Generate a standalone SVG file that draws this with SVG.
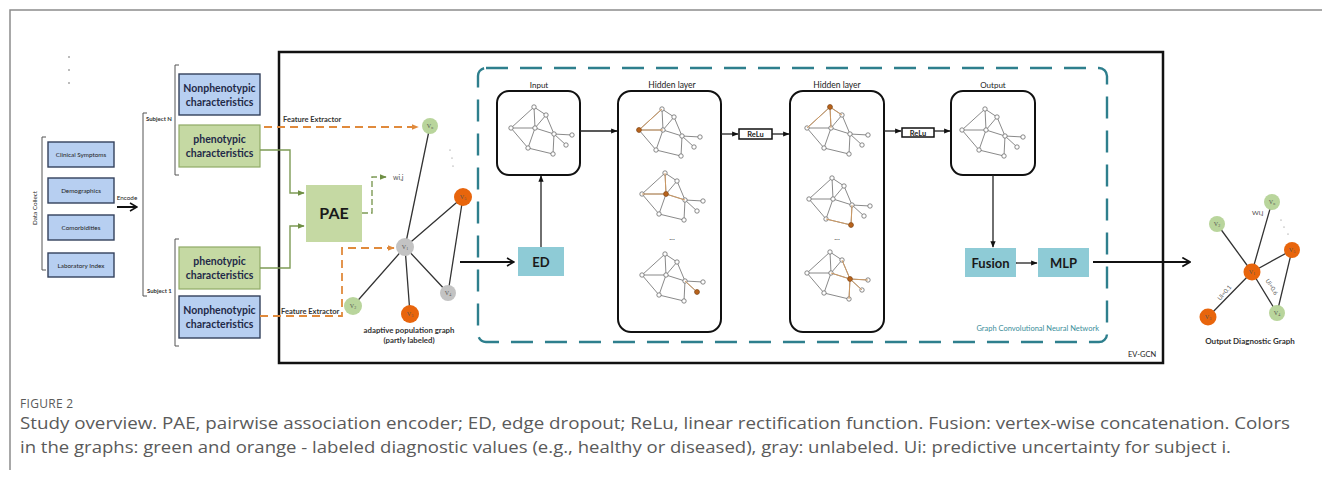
<svg xmlns="http://www.w3.org/2000/svg" xmlns:xlink="http://www.w3.org/1999/xlink" width="1322" height="479" viewBox="0 0 1322 479">
  <style>
    .lbl { font-family: Lato, "Open Sans", "Liberation Sans", sans-serif; }
    .boxb { fill: #b7cff1; stroke: #33405c; stroke-width: 1.4; }
    .boxg { fill: #c5d9a3; stroke: #8faa66; stroke-width: 1.2; }
    .boxt { fill: #8ecbd6; }
    .big { font-weight: 700; font-size: 10.5px; fill: #1f2a48; text-anchor: middle; }
    .small { font-size: 6.3px; fill: #222; text-anchor: middle; }
    .layer { fill: #fff; stroke: #111; stroke-width: 2; }
    .cap { font-family: "Open Sans", Lato, "Liberation Sans", sans-serif; fill: #5a5a5a; }
    .brk { fill: none; stroke: #555; stroke-width: 1; }
    .ge { stroke: #333; stroke-width: 1.3; }
    .me { stroke: #6b6b6b; stroke-width: 0.8; fill: none; }
    .mo { stroke: #d59a5c; stroke-width: 0.9; fill: none; }
    .mn { fill: #fff; stroke: #6b6b6b; stroke-width: 0.8; }
    .mno { fill: #b8631c; stroke: #8a4a14; stroke-width: 0.6; }
    .vl { font-family: "Liberation Serif", serif; font-size: 6px; fill: #555; text-anchor: middle; }
    .ng { fill: #b9d59c; }
    .no { fill: #e8650c; }
    .ny { fill: #c3c3c3; }
  </style>
  <defs>
    <marker id="ah" viewBox="0 0 10 10" refX="9" refY="5" markerWidth="5" markerHeight="5" orient="auto">
      <path d="M0,1 L10,5 L0,9 z" fill="#111"/>
    </marker>
    <marker id="ahg" viewBox="0 0 10 10" refX="9" refY="5" markerWidth="5" markerHeight="5" orient="auto">
      <path d="M0,1 L10,5 L0,9 z" fill="#6f8f45"/>
    </marker>
    <marker id="aho" viewBox="0 0 10 10" refX="9" refY="5" markerWidth="4" markerHeight="4" orient="auto">
      <path d="M0,1 L10,5 L0,9 z" fill="#e08a3c"/>
    </marker>
    <marker id="chev" viewBox="0 0 10 10" refX="9" refY="5" markerWidth="5" markerHeight="5" orient="auto">
      <path d="M2,1 L9,5 L2,9" fill="none" stroke="#111" stroke-width="1.6"/>
    </marker>
    <!-- mini graph used inside the GCN layer boxes; origin at left node -->
    <g id="mg">
      <path class="me" d="M23,-21 L35,-13 M23,-21 L0,0 M23,-21 L24,0 M35,-13 L24,0 M0,0 L24,0 M0,0 L17,20 M24,0 L43,6 M35,-13 L43,6 M24,0 L17,20 M17,20 L42,26 M43,6 L42,26 M43,6 L61,7 M43,6 L55,17"/>
      <circle class="mn" cx="23" cy="-21" r="2.2"/>
      <circle class="mn" cx="35" cy="-13" r="2.2"/>
      <circle class="mn" cx="0" cy="0" r="2.2"/>
      <circle class="mn" cx="24" cy="0" r="2.2"/>
      <circle class="mn" cx="43" cy="6" r="2.2"/>
      <circle class="mn" cx="61" cy="7" r="2.2"/>
      <circle class="mn" cx="55" cy="17" r="2.2"/>
      <circle class="mn" cx="17" cy="20" r="2.2"/>
      <circle class="mn" cx="42" cy="26" r="2.2"/>
    </g>
  </defs>

  <rect width="1322" height="479" fill="#fff"/>

  <!-- page frame -->
  <path d="M10,470 V10 H1322" fill="none" stroke="#8c8c8c" stroke-width="1.5"/>

  <!-- data collection column -->
  <g id="data-collect" class="lbl">
    <circle cx="69" cy="57" r="0.8" fill="#666"/>
    <circle cx="69" cy="70" r="0.8" fill="#666"/>
    <circle cx="69" cy="83" r="0.8" fill="#666"/>
    <path class="brk" d="M46,137 H42 V270 H46"/>
    <text class="small" transform="translate(37,208) rotate(-90)">Data Collect</text>
    <rect class="boxb" x="48" y="142" width="66" height="25" stroke-width="1"/>
    <text class="small" x="81" y="157">Clinical Symptoms</text>
    <rect class="boxb" x="48" y="178" width="66" height="25" stroke-width="1"/>
    <text class="small" x="81" y="193">Demographics</text>
    <rect class="boxb" x="48" y="215" width="66" height="25" stroke-width="1"/>
    <text class="small" x="81" y="230">Comorbidities</text>
    <rect class="boxb" x="48" y="253" width="66" height="24" stroke-width="1"/>
    <text class="small" x="81" y="268">Laboratory Index</text>
    <text class="small" x="127" y="200" font-size="3.6">Encode</text>
  </g>

  <!-- subjects -->
  <g id="subjects" class="lbl">
    <path class="brk" d="M147,113 H143 V296 H147"/>
    <text x="146" y="121" font-size="6" font-weight="700" fill="#333">Subject N</text>
    <text x="147" y="293" font-size="6" font-weight="700" fill="#333">Subject 1</text>
    <path class="brk" d="M179,65 H175 V175 H179"/>
    <path class="brk" d="M179,239 H175 V346 H179"/>
  </g>
  <g id="nonpheno-n" class="lbl">
    <rect class="boxb" x="179" y="74" width="81" height="41"/>
    <text class="big" x="219.5" y="92">Nonphenotypic</text>
    <text class="big" x="219.5" y="106">characteristics</text>
  </g>
  <g id="pheno-n" class="lbl">
    <rect class="boxg" x="179" y="125" width="81" height="42"/>
    <text class="big" x="219.5" y="143">phenotypic</text>
    <text class="big" x="219.5" y="157">characteristics</text>
  </g>
  <g id="pheno-1" class="lbl">
    <rect class="boxg" x="179" y="247" width="81" height="42"/>
    <text class="big" x="219.5" y="265">phenotypic</text>
    <text class="big" x="219.5" y="279">characteristics</text>
  </g>
  <g id="nonpheno-1" class="lbl">
    <rect class="boxb" x="179" y="296" width="81" height="42"/>
    <text class="big" x="219.5" y="314">Nonphenotypic</text>
    <text class="big" x="219.5" y="328">characteristics</text>
  </g>

  <!-- EV-GCN frame and GCN dashed region -->
  <g id="ev-gcn" class="lbl">
    <rect x="279" y="52" width="884" height="311" fill="none" stroke="#111" stroke-width="2.5"/>
    <text x="1128" y="357" font-size="7.5" fill="#222">EV-GCN</text>
  </g>
  <g id="gcn" class="lbl">
    <rect x="478" y="68" width="629" height="274" rx="8" fill="none" stroke="#2e7f8d" stroke-width="2.4" stroke-dasharray="22 12"/>
    <text x="1099" y="331" font-size="7.5" fill="#3b8e9a" text-anchor="end">Graph Convolutional Neural Network</text>
  </g>

  <!-- PAE -->
  <g id="pae" class="lbl">
    <rect x="306" y="185" width="56" height="57" fill="#c5d9a3"/>
    <text x="334" y="219" font-size="16" font-weight="700" fill="#1a1a1a" text-anchor="middle">PAE</text>
    <text x="393" y="180" font-size="7" fill="#555">wi,j</text>
  </g>

  <!-- adaptive population graph -->
  <g id="population-graph" class="lbl">
    <path class="ge" d="M405,247 L430,126 M405,247 L463,197 M405,247 L448,293 M405,247 L410,314 M405,247 L353,306 M463,197 L448,293"/>
    <circle cx="450" cy="150" r="0.6" fill="#777"/>
    <circle cx="452" cy="158" r="0.6" fill="#777"/>
    <circle cx="453" cy="166" r="0.6" fill="#777"/>
    <circle class="ng" cx="430" cy="126" r="8"/>
    <text class="vl" x="430" y="128">V<tspan font-size="4" dy="1">n</tspan></text>
    <circle class="no" cx="463" cy="197" r="9"/>
    <text class="vl" x="463" y="199">V<tspan font-size="4" dy="1">5</tspan></text>
    <circle class="ny" cx="405" cy="247" r="9"/>
    <text class="vl" x="405" y="249">V<tspan font-size="4" dy="1">1</tspan></text>
    <circle class="ny" cx="448" cy="293" r="8"/>
    <text class="vl" x="448" y="295">V<tspan font-size="4" dy="1">4</tspan></text>
    <circle class="no" cx="410" cy="314" r="9"/>
    <text class="vl" x="410" y="316">V<tspan font-size="4" dy="1">3</tspan></text>
    <circle class="ng" cx="353" cy="306" r="9"/>
    <text class="vl" x="353" y="308">V<tspan font-size="4" dy="1">2</tspan></text>
    <text x="409" y="333" font-size="7.8" font-weight="700" fill="#333" text-anchor="middle">adaptive population graph</text>
    <text x="409" y="343" font-size="7.8" font-weight="700" fill="#333" text-anchor="middle">(partly labeled)</text>
  </g>

  <!-- edge dropout -->
  <g id="ed" class="lbl">
    <rect class="boxt" x="518" y="247" width="46" height="29"/>
    <text x="541" y="267" font-size="13" font-weight="700" fill="#1a1a1a" text-anchor="middle">ED</text>
  </g>

  <!-- input layer -->
  <g id="input-layer" class="lbl">
    <text x="539" y="88" font-size="8" fill="#222" text-anchor="middle">Input</text>
    <rect class="layer" x="497" y="91" width="83" height="84" rx="12"/>
    <use xlink:href="#mg" x="511" y="128"/>
  </g>

  <!-- hidden layer 1 -->
  <g id="hidden-layer-1" class="lbl">
    <text x="672" y="88" font-size="8.5" fill="#222" text-anchor="middle">Hidden layer</text>
    <rect class="layer" x="618" y="91" width="103" height="241" rx="13"/>
    <use xlink:href="#mg" x="639" y="130"/>
    <path class="mo" d="M639,130 L662,109 M639,130 L663,130"/>
    <circle class="mno" cx="639" cy="130" r="2.4"/>
    <use xlink:href="#mg" x="642" y="194"/>
    <path class="mo" d="M666,194 L665,173 M666,194 L642,194 M666,194 L685,200"/>
    <circle class="mno" cx="666" cy="194" r="2.4"/>
    <text x="672" y="240" font-size="8" fill="#444" text-anchor="middle">...</text>
    <use xlink:href="#mg" x="642" y="275"/>
    <path class="mo" d="M685,281 L697,292"/>
    <circle class="mno" cx="697" cy="292" r="2.4"/>
  </g>

  <!-- ReLu 1 -->
  <g id="relu-1" class="lbl">
    <rect x="739" y="129" width="33" height="10" fill="#fff" stroke="#111" stroke-width="1.5"/>
    <text x="755.5" y="137" font-size="7.5" font-weight="700" fill="#222" text-anchor="middle">ReLu</text>
  </g>

  <!-- hidden layer 2 -->
  <g id="hidden-layer-2" class="lbl">
    <text x="837" y="88" font-size="8.5" fill="#222" text-anchor="middle">Hidden layer</text>
    <rect class="layer" x="790" y="91" width="94" height="241" rx="13"/>
    <use xlink:href="#mg" x="807" y="128"/>
    <path class="mo" d="M830,107 L807,128 M830,107 L831,128 M830,107 L842,115"/>
    <circle class="mno" cx="830" cy="107" r="2.4"/>
    <use xlink:href="#mg" x="809" y="199"/>
    <path class="mo" d="M851,225 L826,219 M851,225 L852,205"/>
    <circle class="mno" cx="851" cy="225" r="2.4"/>
    <text x="837" y="240" font-size="8" fill="#444" text-anchor="middle">...</text>
    <use xlink:href="#mg" x="807" y="273"/>
    <path class="mo" d="M850,279 L831,273 M850,279 L868,280 M850,279 L862,290 M850,279 L849,299 M850,279 L842,260"/>
    <circle class="mno" cx="850" cy="279" r="2.4"/>
  </g>

  <!-- ReLu 2 -->
  <g id="relu-2" class="lbl">
    <rect x="902" y="128" width="32" height="9" fill="#fff" stroke="#111" stroke-width="1.5"/>
    <text x="918" y="135.5" font-size="7.5" font-weight="700" fill="#222" text-anchor="middle">ReLu</text>
  </g>

  <!-- output layer -->
  <g id="output-layer" class="lbl">
    <text x="993" y="88" font-size="8" fill="#222" text-anchor="middle">Output</text>
    <rect class="layer" x="951" y="91" width="84" height="84" rx="12"/>
    <use xlink:href="#mg" x="962" y="130"/>
  </g>

  <!-- fusion and MLP -->
  <g id="fusion" class="lbl">
    <rect class="boxt" x="965" y="248" width="51" height="29"/>
    <text x="990.5" y="268" font-size="13" font-weight="700" fill="#1a1a1a" text-anchor="middle">Fusion</text>
  </g>
  <g id="mlp" class="lbl">
    <rect class="boxt" x="1038" y="248" width="51" height="29"/>
    <text x="1063.5" y="268" font-size="13" font-weight="700" fill="#1a1a1a" text-anchor="middle">MLP</text>
  </g>

  <!-- output diagnostic graph -->
  <g id="diagnostic-graph" class="lbl">
    <path class="ge" d="M1252,272 L1272,202 M1252,272 L1217,224 M1252,272 L1292,250 M1252,272 L1277,313 M1252,272 L1208,317 M1292,250 L1277,313"/>
    <text x="1252" y="215" font-size="6.5" fill="#444">Wi,j</text>
    <circle cx="1281" cy="220" r="0.6" fill="#777"/>
    <circle cx="1284" cy="227" r="0.6" fill="#777"/>
    <circle cx="1288" cy="234" r="0.6" fill="#777"/>
    <text transform="translate(1226,294) rotate(-50)" font-size="6" fill="#555" text-anchor="middle">Ui=0.1</text>
    <text transform="translate(1270,288) rotate(58)" font-size="6" fill="#555" text-anchor="middle">Ui=0.6</text>
    <circle class="ng" cx="1272" cy="202" r="8"/>
    <text class="vl" x="1272" y="204">V<tspan font-size="4" dy="1">n</tspan></text>
    <circle class="ng" cx="1217" cy="224" r="8"/>
    <text class="vl" x="1217" y="226">V<tspan font-size="4" dy="1">2</tspan></text>
    <circle class="no" cx="1292" cy="250" r="8"/>
    <text class="vl" x="1292" y="252">V<tspan font-size="4" dy="1">5</tspan></text>
    <circle class="no" cx="1252" cy="272" r="8.5"/>
    <text class="vl" x="1252" y="274">V<tspan font-size="4" dy="1">1</tspan></text>
    <circle class="ng" cx="1277" cy="313" r="8"/>
    <text class="vl" x="1277" y="315">V<tspan font-size="4" dy="1">4</tspan></text>
    <circle class="no" cx="1208" cy="317" r="8.5"/>
    <text class="vl" x="1208" y="319">V<tspan font-size="4" dy="1">3</tspan></text>
    <text x="1250" y="344" font-size="8" font-weight="700" fill="#333" text-anchor="middle">Output Diagnostic Graph</text>
  </g>

  <!-- connectors -->
  <g id="connectors" fill="none">
    <path d="M117,207 H137" stroke="#111" stroke-width="2" marker-end="url(#chev)"/>
    <path d="M260,150 H290 V193 H304" stroke="#7d9a55" stroke-width="1.4" marker-end="url(#ahg)"/>
    <path d="M260,268 H290 V226 H304" stroke="#7d9a55" stroke-width="1.4" marker-end="url(#ahg)"/>
    <path d="M362,213 H372 V177 H386" stroke="#7d9a55" stroke-width="1.4" stroke-dasharray="6 3" marker-end="url(#ahg)"/>
    <path d="M264,127 H418" stroke="#e08a3c" stroke-width="1.8" stroke-dasharray="8 5" marker-end="url(#aho)"/>
    <path d="M260,316 H342 V248 H394" stroke="#e08a3c" stroke-width="1.8" stroke-dasharray="8 5" marker-end="url(#aho)"/>
    <path d="M460,262 H514" stroke="#111" stroke-width="2" marker-end="url(#chev)"/>
    <path d="M541,247 V176" stroke="#222" stroke-width="1.3" marker-end="url(#ah)"/>
    <path d="M580,131 H617" stroke="#222" stroke-width="1.3" marker-end="url(#ah)"/>
    <path d="M721,134 H738" stroke="#222" stroke-width="1.3" marker-end="url(#ah)"/>
    <path d="M772,134 H789" stroke="#222" stroke-width="1.3" marker-end="url(#ah)"/>
    <path d="M884,131 H901" stroke="#222" stroke-width="1.3" marker-end="url(#ah)"/>
    <path d="M934,131 H950" stroke="#222" stroke-width="1.3" marker-end="url(#ah)"/>
    <path d="M993,175 V247" stroke="#222" stroke-width="1.3" marker-end="url(#ah)"/>
    <path d="M1016,263 H1037" stroke="#222" stroke-width="1.3" marker-end="url(#ah)"/>
    <path d="M1093,262 H1190" stroke="#111" stroke-width="2.2" marker-end="url(#chev)"/>
  </g>
  <g id="extractor-labels" class="lbl">
    <text x="283" y="122" font-size="7.5" font-weight="700" fill="#333">Feature Extractor</text>
    <text x="281" y="314" font-size="7.5" font-weight="700" fill="#333">Feature Extractor</text>
  </g>

  <!-- caption -->
  <g id="caption">
    <text class="cap" x="20" y="408" font-size="12" letter-spacing="0.3" fill="#777">FIGURE 2</text>
    <text class="cap" x="20" y="429" font-size="16" textLength="1270" lengthAdjust="spacingAndGlyphs">Study overview. PAE, pairwise association encoder; ED, edge dropout; ReLu, linear rectification function. Fusion: vertex-wise concatenation. Colors</text>
    <text class="cap" x="20" y="453" font-size="16" textLength="1211" lengthAdjust="spacingAndGlyphs">in the graphs: green and orange - labeled diagnostic values (e.g., healthy or diseased), gray: unlabeled. Ui: predictive uncertainty for subject i.</text>
  </g>
</svg>
